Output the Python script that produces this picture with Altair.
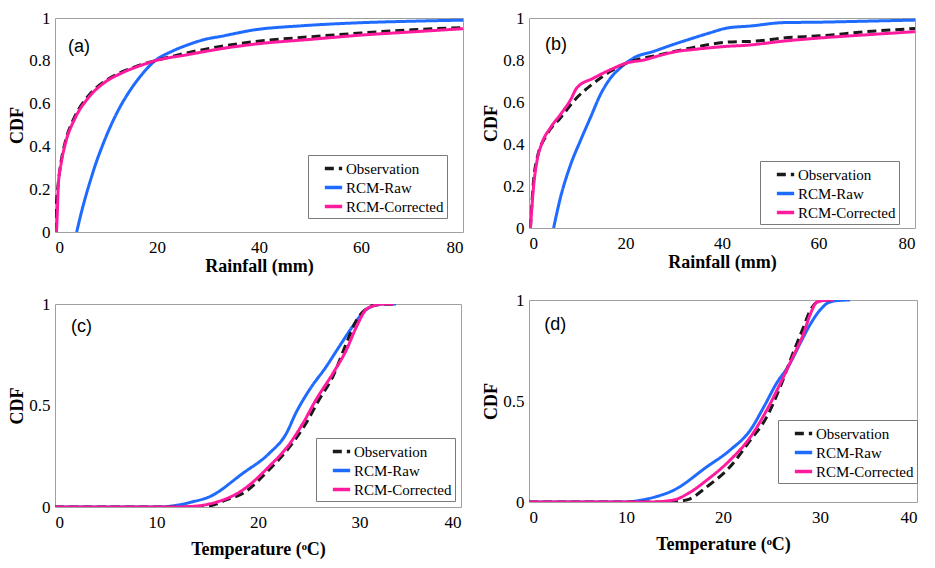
import altair as alt
import pandas as pd

SERIES = ["Observation", "RCM-Raw", "RCM-Corrected"]
COLORS = ["#1a1a1a", "#1f6bff", "#ff1a9e"]
DASHES = [[9, 5], [1, 0], [1, 0]]
DRAW_ORDER = ["RCM-Raw", "Observation", "RCM-Corrected"]

# ---- Panel (a): rainfall ----
obs_a_x = [0, 0.3, 0.65, 1.2, 2.0, 3.9, 6.5, 9.8, 13.1, 16.3, 19.6, 26.1, 32.7, 39.2, 50, 60, 70, 80]
obs_a_y = [0, 0.14, 0.23, 0.33, 0.42, 0.54, 0.635, 0.705, 0.748, 0.777, 0.80, 0.838, 0.868, 0.89, 0.912, 0.93, 0.945, 0.955]
raw_a_x = [4.25, 5, 6, 7, 8, 9, 10, 11, 12, 13, 14.4, 17.0, 19.6, 22.9, 26.1, 29.4, 32.7, 39.2, 48, 60, 70, 80]
raw_a_y = [0, 0.075, 0.165, 0.245, 0.32, 0.385, 0.445, 0.50, 0.55, 0.595, 0.65, 0.735, 0.80, 0.844, 0.875, 0.90, 0.915, 0.945, 0.963, 0.978, 0.985, 0.99]
cor_a_x = [0.3, 0.5, 0.65, 1.2, 2.0, 3.9, 6.5, 9.8, 13.1, 16.3, 19.6, 26.1, 32.7, 39.2, 50, 60, 70, 80]
cor_a_y = [0, 0.12, 0.22, 0.32, 0.41, 0.53, 0.626, 0.70, 0.743, 0.774, 0.80, 0.829, 0.857, 0.878, 0.90, 0.92, 0.935, 0.95]

# ---- Panel (b): rainfall ----
obs_b_x = [0.3, 1.0, 1.66, 3.7, 6.5, 9.9, 13.4, 16.9, 20.3, 27.2, 34.1, 41.0, 47, 52.8, 60.3, 70, 80]
obs_b_y = [0, 0.24, 0.33, 0.444, 0.524, 0.62, 0.69, 0.746, 0.786, 0.825, 0.86, 0.885, 0.89, 0.905, 0.915, 0.935, 0.95]
raw_b_x = [5.1, 6.5, 8.6, 10.6, 12.7, 14.8, 16.9, 18.9, 21.7, 25.8, 30.7, 34.1, 37.6, 41, 45.9, 52.8, 60, 70, 80]
raw_b_y = [0, 0.143, 0.30, 0.413, 0.524, 0.635, 0.714, 0.762, 0.81, 0.841, 0.88, 0.905, 0.93, 0.952, 0.962, 0.978, 0.98, 0.985, 0.99]
cor_b_x = [0.3, 1.0, 1.66, 2.7, 4.4, 6.5, 8.6, 9.9, 13.4, 16.9, 20.3, 23.8, 27.2, 30.7, 34.1, 41.0, 45, 52.8, 60.3, 70, 80]
cor_b_y = [0, 0.21, 0.32, 0.405, 0.476, 0.54, 0.61, 0.667, 0.714, 0.754, 0.786, 0.80, 0.822, 0.841, 0.85, 0.865, 0.87, 0.89, 0.905, 0.92, 0.935]

# ---- Panel (c): temperature ----
obs_c_x = [0, 14, 15.5, 16.8, 18.5, 21.1, 23.1, 24.7, 26.0, 27.4, 28.7, 29.7, 30.8, 31.5, 33.6]
obs_c_y = [0, 0, 0.008, 0.034, 0.067, 0.184, 0.295, 0.41, 0.527, 0.645, 0.806, 0.92, 0.98, 0.995, 1.0]
raw_c_x = [0, 10, 11.9, 13.5, 15.2, 18.5, 21.1, 22.8, 23.7, 25.05, 26.7, 28.0, 29.3, 30.6, 31.3, 32.3, 33.6]
raw_c_y = [0, 0, 0.008, 0.025, 0.05, 0.166, 0.264, 0.363, 0.46, 0.576, 0.69, 0.79, 0.888, 0.97, 0.99, 1.0, 1.0]
cor_c_x = [0, 12, 13.8, 15.2, 18.5, 21.1, 23.1, 24.4, 25.7, 27.4, 28.7, 29.7, 30.6, 31.3, 32.3, 33.3]
cor_c_y = [0, 0, 0.004, 0.015, 0.084, 0.20, 0.31, 0.41, 0.527, 0.66, 0.773, 0.888, 0.97, 0.99, 1.0, 1.0]

# ---- Panel (d): temperature ----
obs_d_x = [0, 14.5, 15.5, 16.6, 18.3, 20.7, 22.8, 24.5, 25.9, 27.2, 28.3, 29.0, 29.7, 30.5, 31.4]
obs_d_y = [0, 0, 0.004, 0.016, 0.074, 0.173, 0.305, 0.42, 0.57, 0.735, 0.866, 0.95, 0.99, 1.0, 1.0]
raw_d_x = [0, 10, 11.4, 13.0, 14.9, 18.3, 20.7, 22.8, 24.2, 25.5, 26.9, 27.9, 29.0, 30.0, 31.0, 32.0, 33.1]
raw_d_y = [0, 0, 0.008, 0.025, 0.058, 0.173, 0.256, 0.355, 0.47, 0.586, 0.685, 0.78, 0.88, 0.95, 0.99, 0.998, 1.0]
cor_d_x = [0, 12.5, 14.9, 16.5, 18.3, 20.7, 22.8, 24.5, 25.9, 27.2, 28.3, 29.0, 29.7, 31.0, 31.4]
cor_d_y = [0, 0, 0.01, 0.045, 0.107, 0.206, 0.32, 0.454, 0.586, 0.718, 0.833, 0.93, 0.99, 1.0, 1.0]

RAIN_TICKS = [0, 20, 40, 60, 80]
TEMP_TICKS = [0, 10, 20, 30, 40]
RAIN_YTICKS = [0, 0.2, 0.4, 0.6, 0.8, 1]
TEMP_YTICKS = [0, 0.5, 1]

SERIF = "Liberation Serif"


def panel(obs, raw, cor, xmax, xticks, yticks, xtitle, xtitle_pad, label, lab_xy,
          leg_xy, w, h):
    rows = []
    for name, (xs, ys) in zip(SERIES, [obs, raw, cor]):
        for xv, yv in zip(xs, ys):
            rows.append({"x": xv, "y": yv, "series": name})
    df = pd.DataFrame(rows)
    leg = alt.Legend(
        title=None, orient="none", legendX=leg_xy[0], legendY=leg_xy[1],
        strokeColor="#7a7a7a", fillColor="white", padding=3,
        labelFont=SERIF, labelFontSize=15, labelColor="black",
        symbolType="stroke", symbolStrokeWidth=3.5, symbolSize=300,
        rowPadding=0, labelOffset=2, symbolOffset=12,
    )
    axis_font = dict(labelFont=SERIF, labelFontSize=17, labelColor="black",
                     titleFont=SERIF, titleFontSize=18, titleFontWeight="bold",
                     titleColor="black", grid=False, ticks=False, domain=False)
    x = alt.X("x:Q", scale=alt.Scale(domain=[0, xmax], nice=False, zero=False),
              axis=alt.Axis(values=xticks, title=xtitle, titlePadding=xtitle_pad,
                            labelPadding=7, format="d", **axis_font))
    y = alt.Y("y:Q", scale=alt.Scale(domain=[0, 1], nice=False),
              axis=alt.Axis(values=yticks, title="CDF", titlePadding=2,
                            labelPadding=5, format=".1~f", **axis_font))
    color = alt.Color("series:N", scale=alt.Scale(domain=SERIES, range=COLORS), legend=leg)
    dash = alt.StrokeDash("series:N", scale=alt.Scale(domain=SERIES, range=DASHES), legend=leg)
    base = alt.Chart(df).mark_line(strokeWidth=3, interpolate="monotone", clip=True).encode(
        x=x, y=y, color=color, strokeDash=dash)
    layers = [base.transform_filter(alt.datum.series == s) for s in DRAW_ORDER]
    tdf = pd.DataFrame({"x": [lab_xy[0]], "y": [lab_xy[1]], "t": [label]})
    text = alt.Chart(tdf).mark_text(font="Liberation Sans", fontSize=18, color="black").encode(
        x="x:Q", y="y:Q", text="t:N")
    return alt.layer(*layers, text).properties(width=w, height=h)


a = panel((obs_a_x, obs_a_y), (raw_a_x, raw_a_y), (cor_a_x, cor_a_y), 80, RAIN_TICKS,
          RAIN_YTICKS, "Rainfall (mm)", 2, "(a)", (4.7, 0.865), (253, 137), 408, 214)
b = panel((obs_b_x, obs_b_y), (raw_b_x, raw_b_y), (cor_b_x, cor_b_y), 80, RAIN_TICKS,
          RAIN_YTICKS, "Rainfall (mm)", 2, "(b)", (5.6, 0.87), (231, 143), 386, 210)
c = panel((obs_c_x, obs_c_y), (raw_c_x, raw_c_y), (cor_c_x, cor_c_y), 40, TEMP_TICKS,
          TEMP_YTICKS, "Temperature (ᵒC)", 10, "(c)", (2.6, 0.887), (261, 134), 406, 203)
d = panel((obs_d_x, obs_d_y), (raw_d_x, raw_d_y), (cor_d_x, cor_d_y), 40, TEMP_TICKS,
          TEMP_YTICKS, "Temperature (ᵒC)", 10, "(d)", (2.7, 0.876), (249, 120), 388, 202)

res_s = dict(x="independent", y="independent", color="independent", strokeDash="independent")
res_l = dict(color="independent", strokeDash="independent")

left = alt.vconcat(a, c, spacing=18).resolve_scale(**res_s).resolve_legend(**res_l)
right = alt.vconcat(b, d, spacing=18).resolve_scale(**res_s).resolve_legend(**res_l)

chart = alt.hconcat(left, right, spacing=18).resolve_scale(**res_s).resolve_legend(**res_l).properties(
    padding={"left": 0, "top": 0, "right": 0, "bottom": 0},
    background="white",
).configure_view(stroke="#a0a0a0", strokeWidth=1)

chart.save("out.html", embed_options={"renderer": "svg", "actions": False})
